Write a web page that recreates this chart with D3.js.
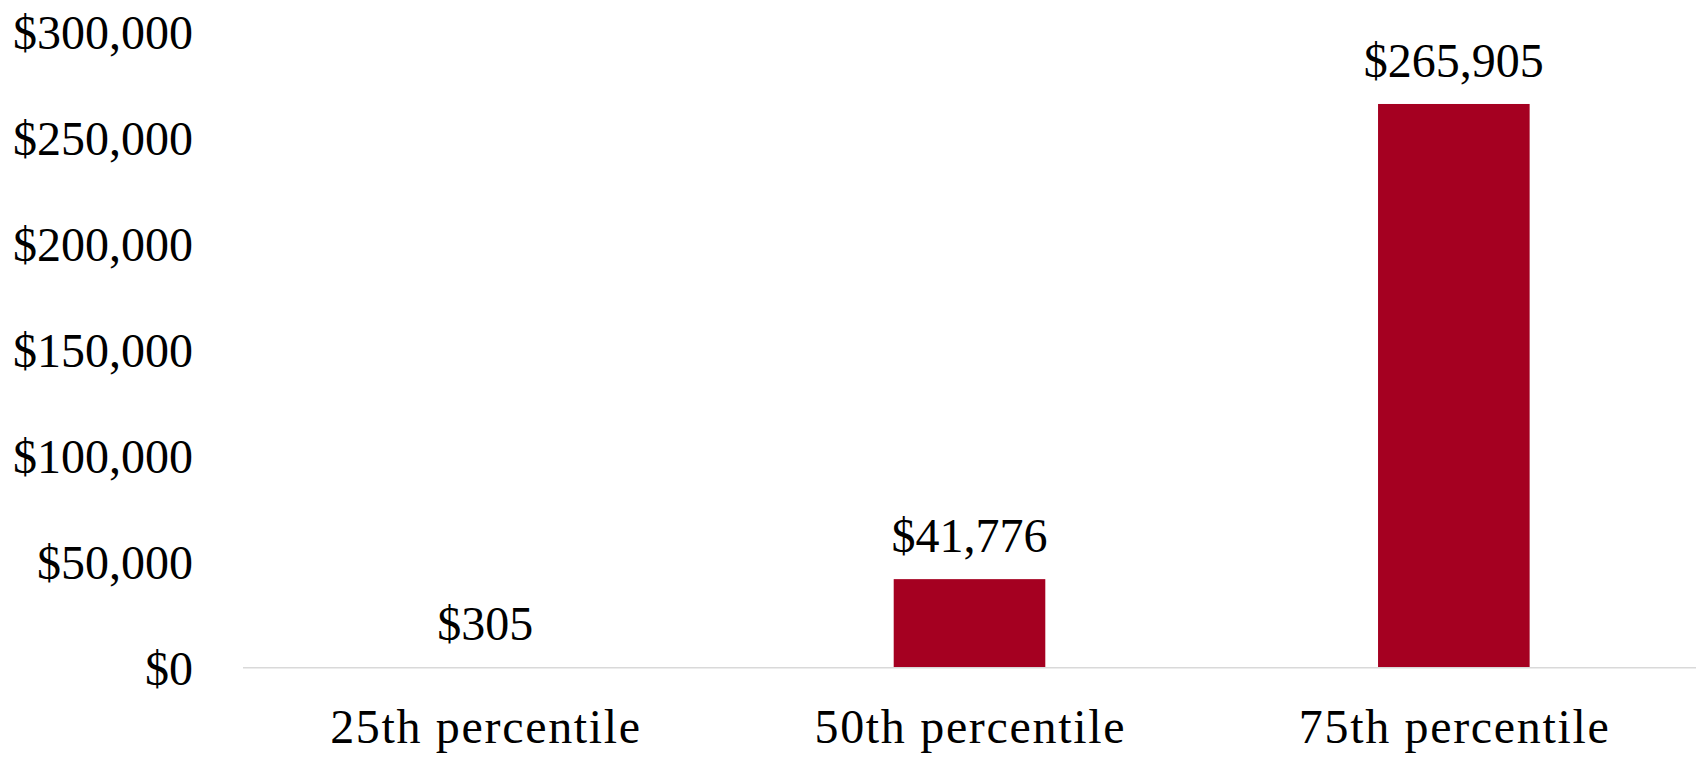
<!DOCTYPE html>
<html>
<head>
<meta charset="utf-8">
<script src="https://cdn.jsdelivr.net/npm/d3@7/dist/d3.min.js"></script>
<style>
  html, body { margin: 0; padding: 0; background: #ffffff; }
  svg { display: block; }
  text { font-family: "Liberation Serif", "Times New Roman", serif; fill: #000; }
</style>
</head>
<body>
<svg id="chart" width="1698" height="764"></svg>
<script>
// Chart data
const categories = ["25th percentile", "50th percentile", "75th percentile"];
const values = [305, 41776, 265905];
const yTicks = [0, 50000, 100000, 150000, 200000, 250000, 300000];

const width = 1698, height = 764;
const margin = { left: 243, right: 2, top: 31.7, bottom: 96.3 };
const fontSize = 48;

const svg = d3.select("#chart");

const x = d3.scaleBand()
  .domain(categories)
  .range([margin.left, width - margin.right])
  .paddingInner(0.687)
  .paddingOuter(0.3435);

const y = d3.scaleLinear()
  .domain([0, 300000])
  .range([height - margin.bottom, margin.top]);

const money = v => "$" + d3.format(",")(v);

// Y axis labels (no axis line or tick marks)
const yAxis = d3.axisLeft(y)
  .tickValues(yTicks)
  .tickFormat(money)
  .tickSize(0)
  .tickPadding(0);

const yg = svg.append("g")
  .attr("transform", `translate(193,0)`)
  .call(yAxis);
yg.select(".domain").remove();
yg.selectAll("text")
  .attr("font-family", "Liberation Serif, serif")
  .attr("font-size", fontSize)
  .attr("fill", "#000")
  .attr("dy", "0.34em");

// Bars
svg.append("g")
  .selectAll("rect")
  .data(values)
  .join("rect")
  .attr("x", (d, i) => x(categories[i]))
  .attr("width", x.bandwidth())
  .attr("y", d => y(d))
  .attr("height", d => y(0) - y(d))
  .attr("fill", "#a50021");

// Baseline
svg.append("line")
  .attr("x1", margin.left)
  .attr("x2", width - margin.right)
  .attr("y1", y(0))
  .attr("y2", y(0))
  .attr("stroke", "#d9d9d9")
  .attr("stroke-width", 1.5);

// Value labels above bars
svg.append("g")
  .selectAll("text")
  .data(values)
  .join("text")
  .attr("x", (d, i) => x(categories[i]) + x.bandwidth() / 2)
  .attr("y", d => y(d) - 27)
  .attr("text-anchor", "middle")
  .attr("font-size", fontSize)
  .text(d => money(d));

// Category labels
const xAxis = d3.axisBottom(x).tickSize(0).tickPadding(0);
const xg = svg.append("g")
  .call(xAxis);
xg.select(".domain").remove();
xg.selectAll("text")
  .attr("font-family", "Liberation Serif, serif")
  .attr("font-size", fontSize)
  .attr("fill", "#000")
  .attr("y", 743)
  .attr("dy", 0)
  .attr("textLength", 310)
  .attr("lengthAdjust", "spacing");
</script>
</body>
</html>
